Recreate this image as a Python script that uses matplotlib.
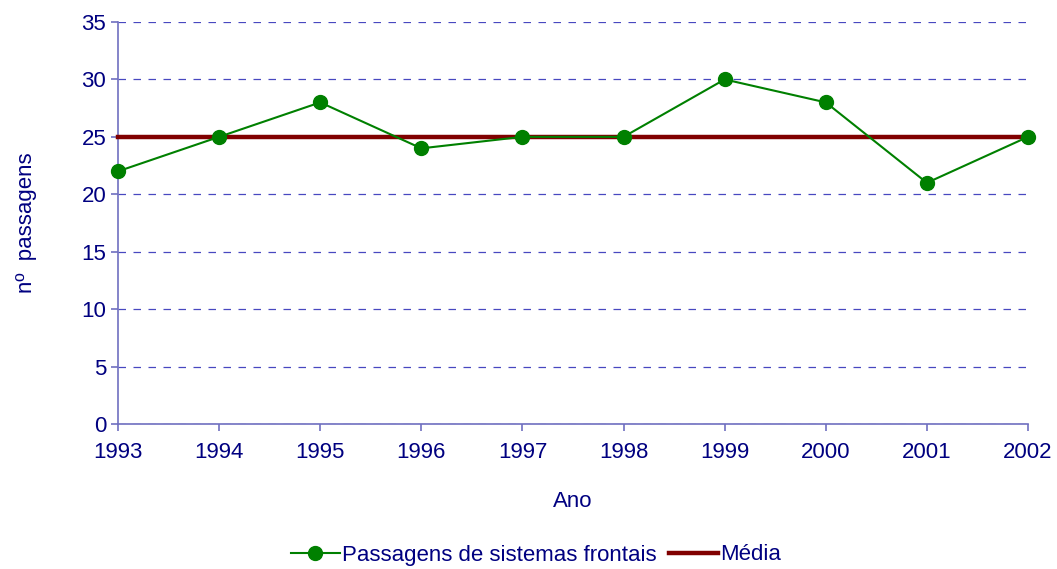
import matplotlib.pyplot as plt
import numpy as np

plt.rcParams['font.family'] = ['Liberation Sans', 'DejaVu Sans']
plt.rcParams['font.size'] = 16

anos = [1993, 1994, 1995, 1996, 1997, 1998, 1999, 2000, 2001, 2002]
passagens = [22, 25, 28, 24, 25, 25, 30, 28, 21, 25]
media = [25] * len(anos)

navy = '#000080'
fig = plt.figure(figsize=(10.57, 5.69), dpi=100)
ax = fig.add_axes([118 / 1057, 1 - 424 / 569, (1028 - 118) / 1057, (424 - 22) / 569])

ax.plot(anos, media, color='#800000', lw=3.2, label='Média', zorder=3, clip_on=False)
ax.plot(anos, passagens, color='#008000', lw=1.5, marker='o', markersize=10,
        label='Passagens de sistemas frontais', zorder=4, clip_on=False)

ax.set_xlim(1993, 2002)
ax.set_ylim(0, 35)
ax.set_yticks(range(0, 36, 5))
ax.set_xticks(anos)
ax.yaxis.grid(True, color='#4848c0', linestyle=(0, (6, 6)), lw=0.9)
ax.set_axisbelow(True)

for s in ['top', 'right']:
    ax.spines[s].set_visible(False)
for s in ['left', 'bottom']:
    ax.spines[s].set_color('#7070c0')
    ax.spines[s].set_linewidth(1.2)
ax.tick_params(colors='#7070c0', labelcolor=navy, length=5, width=1.2)
ax.tick_params(axis='x', pad=8)

ax.set_xlabel('Ano', color=navy, labelpad=20)
ax.set_ylabel('nº  passagens', color=navy, labelpad=32)

h, l = ax.get_legend_handles_labels()
fig.legend(h[::-1], l[::-1], loc='center', bbox_to_anchor=(0.507, 1 - 555 / 569), ncol=2,
           frameon=False, labelcolor=navy, handlelength=2.2, columnspacing=0.55,
           handletextpad=0.1)

fig.savefig('out.png', dpi=100)
